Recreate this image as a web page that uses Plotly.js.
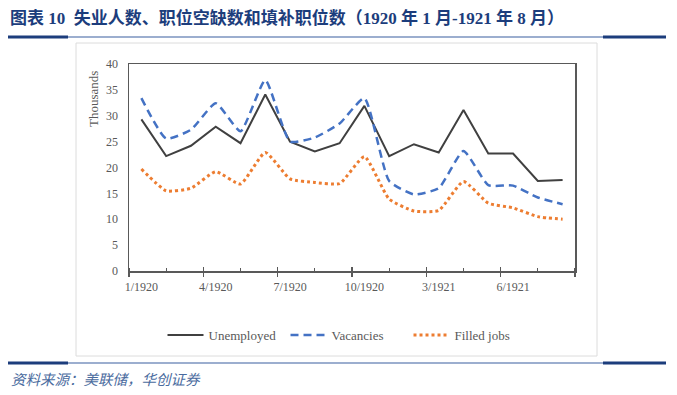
<!DOCTYPE html>
<html>
<head>
<meta charset="utf-8">
<script src="https://cdn.plot.ly/plotly-3.0.1.min.js"></script>
<style>html,body{margin:0;padding:0;background:#fff;}#chart{width:677px;height:395px;}</style>
</head>
<body>
<div id="chart"></div>
<script>
// ---- data ----
const categories = ["1/1920","2/1920","3/1920","4/1920","5/1920","6/1920","7/1920","8/1920","9/1920","10/1920","12/1920","2/1921","3/1921","4/1921","5/1921","6/1921","7/1921","8/1921"];
const unemployed = [29.3,22.2,24.2,27.9,24.7,34.1,25.0,23.1,24.7,31.9,22.2,24.5,22.9,31.1,22.7,22.7,17.4,17.6];
const vacancies  = [33.4,25.6,27.3,32.4,27.0,36.9,25.0,25.8,28.5,33.4,17.4,14.8,16.0,23.2,16.6,16.5,14.2,12.9];
const filledJobs = [19.7,15.5,16.0,19.2,16.8,22.9,17.8,17.1,16.9,22.1,13.9,11.6,11.7,17.3,13.1,12.2,10.5,10.0];
const tickIdx = [0,3,6,9,12,15];
const tickLabels = tickIdx.map(i => categories[i]);
const seriesNames = ["Unemployed","Vacancies","Filled jobs"];

// ---- geometry helpers (pixel -> paper) ----
const L = 129, T = 64, W = 446, H = 207;
const px = x => (x - L) / W;
const py = y => (T + H - y) / H;

const idx = categories.map((_, i) => i);
const serif = "Liberation Serif, Times New Roman, serif";
const gray = "#595959";

const traces = [
  {x: idx, y: unemployed, name: seriesNames[0], type: "scatter", mode: "lines",
   line: {color: "#404040", width: 2}, text: categories, hovertemplate: "%{text}: %{y}<extra>Unemployed</extra>"},
  {x: idx, y: vacancies, name: seriesNames[1], type: "scatter", mode: "lines",
   line: {color: "#4472C4", width: 2.5, dash: "8px,5px", shape: "spline", smoothing: 0.5}, text: categories, hovertemplate: "%{text}: %{y}<extra>Vacancies</extra>"},
  {x: idx, y: filledJobs, name: seriesNames[2], type: "scatter", mode: "lines",
   line: {color: "#ED7D31", width: 3, dash: "dot", shape: "spline", smoothing: 0.5}, text: categories, hovertemplate: "%{text}: %{y}<extra>Filled jobs</extra>"},
  // invisible carriers so the overlay axes (inside ticks, category labels) are drawn
  {x: idx, y: unemployed, xaxis: "x2", yaxis: "y", type: "scatter", mode: "none", showlegend: false, hoverinfo: "skip"},
  {x: idx, y: unemployed, xaxis: "x3", yaxis: "y", type: "scatter", mode: "none", showlegend: false, hoverinfo: "skip"}
];

const xr = [-0.5, categories.length - 0.5];

const layout = {
  width: 677, height: 395,
  margin: {l: L, r: 677 - L - W, t: T, b: 395 - T - H, pad: 0},
  paper_bgcolor: "#fff", plot_bgcolor: "#fff",
  showlegend: true,
  legend: {orientation: "h", x: px(347), xanchor: "center", y: py(335), yanchor: "middle",
           font: {family: serif, size: 13, color: gray}, bgcolor: "rgba(0,0,0,0)", itemwidth: 36,
           entrywidth: 72, entrywidthmode: "pixels"},
  xaxis: {range: xr, type: "linear", tickmode: "linear", tick0: -0.5, dtick: 3,
          ticks: "outside", ticklen: 4, tickwidth: 1.5, tickcolor: gray,
          showticklabels: false, showgrid: false, zeroline: false,
          showline: true, mirror: true, linecolor: gray, linewidth: 1.5,
          minor: {tick0: -0.5, dtick: 1.5, ticks: "inside", ticklen: 3, tickwidth: 1.2, tickcolor: gray, showgrid: false}},
  xaxis2: {range: xr, type: "linear", overlaying: "x", anchor: "y", side: "bottom", tickmode: "linear", tick0: -0.5, dtick: 3,
           ticks: "inside", ticklen: 4, tickwidth: 1.5, tickcolor: gray,
           showticklabels: false, showgrid: false, zeroline: false, showline: false},
  xaxis3: {range: xr, type: "linear", overlaying: "x", anchor: "y", side: "bottom", tickmode: "array",
           tickvals: tickIdx, ticktext: tickLabels,
           ticks: "outside", ticklen: 5, tickcolor: "rgba(0,0,0,0)",
           tickfont: {family: serif, size: 12, color: gray},
           showgrid: false, zeroline: false, showline: false},
  yaxis: {range: [0, 40], dtick: 5, tick0: 0, ticks: "outside", ticklen: 7, tickcolor: "rgba(0,0,0,0)",
          tickfont: {family: serif, size: 12, color: gray},
          showgrid: false, zeroline: false, showline: true, mirror: true, linecolor: gray, linewidth: 1.5},
  annotations: [
    {text: "<b>图表 10  失业人数、职位空缺数和填补职位数（1920 年 1 月-1921 年 8 月）</b>",
     xref: "paper", yref: "paper", x: px(8), y: py(18), xanchor: "left", yanchor: "middle", showarrow: false,
     font: {family: "Liberation Serif, Noto Sans CJK SC", size: 17, color: "#1c3d7c"}},
    {text: "<i>资料来源：美联储，华创证券</i>",
     xref: "paper", yref: "paper", x: px(9), y: py(378), xanchor: "left", yanchor: "middle", showarrow: false,
     font: {family: "Noto Sans CJK SC", size: 14.5, color: "#4a6b9e"}},
    {text: "Thousands", textangle: -90,
     xref: "paper", yref: "paper", x: px(93), y: py(99), xanchor: "center", yanchor: "middle", showarrow: false,
     font: {family: serif, size: 13, color: gray}}
  ],
  shapes: [
    {type: "rect", xref: "paper", yref: "paper", x0: px(76), x1: px(597), y0: py(356), y1: py(43),
     line: {color: "#dcdcdc", width: 1}, layer: "below"},
    {type: "line", xref: "paper", yref: "paper", x0: px(8), x1: px(666), y0: py(37), y1: py(37), line: {color: "#3a5f9f", width: 1.2}},
    {type: "line", xref: "paper", yref: "paper", x0: px(8), x1: px(68), y0: py(37), y1: py(37), line: {color: "#1c3d7c", width: 3}},
    {type: "line", xref: "paper", yref: "paper", x0: px(603), x1: px(666), y0: py(37), y1: py(37), line: {color: "#1c3d7c", width: 3}},
    {type: "line", xref: "paper", yref: "paper", x0: px(8), x1: px(666), y0: py(363), y1: py(363), line: {color: "#3a5f9f", width: 1.2}},
    {type: "line", xref: "paper", yref: "paper", x0: px(8), x1: px(68), y0: py(363), y1: py(363), line: {color: "#1c3d7c", width: 3}},
    {type: "line", xref: "paper", yref: "paper", x0: px(603), x1: px(666), y0: py(363), y1: py(363), line: {color: "#1c3d7c", width: 3}}
  ]
};

Plotly.newPlot("chart", traces, layout, {displayModeBar: false, staticPlot: true});
</script>
</body>
</html>
